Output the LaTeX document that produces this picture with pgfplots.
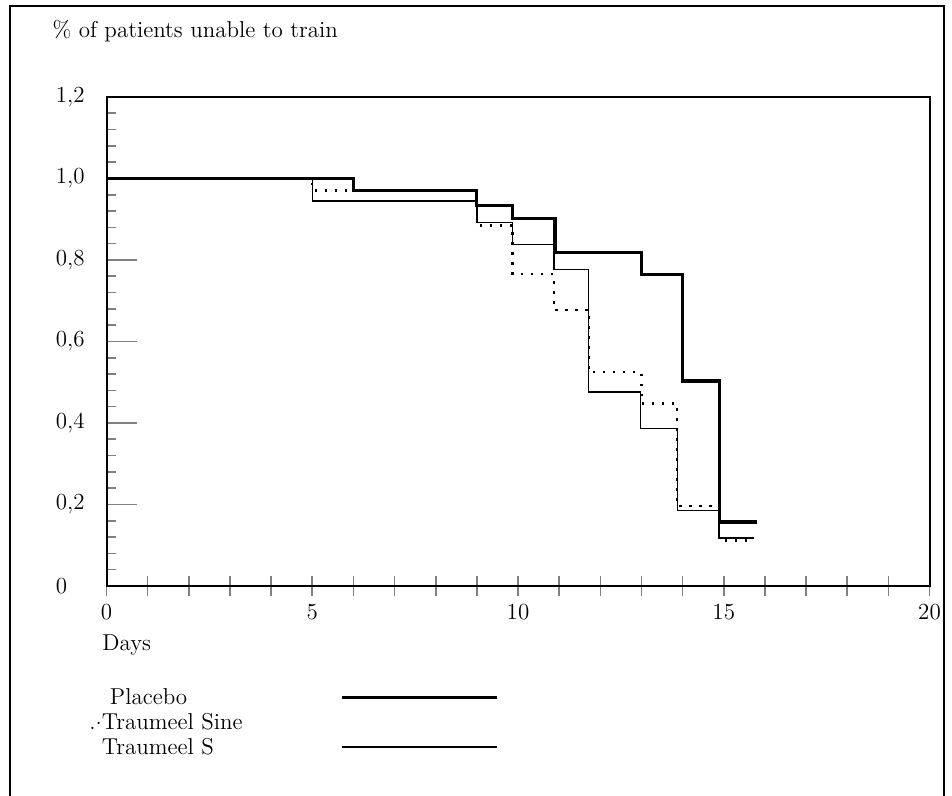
\documentclass[border=0pt]{standalone}
\usepackage{pgfplots}
\pgfplotsset{compat=1.18}
\newcommand\ff{\fontsize{11.5bp}{13.8bp}\selectfont}
\newcommand\lt[1]{\makebox[119bp][l]{\rule[-3.6bp]{0pt}{12bp}#1}}
\begin{document}
\begin{tikzpicture}
\useasboundingbox (0bp,0bp) rectangle (476bp,398bp);
\draw[line width=1bp] (5bp,0bp) -- (5bp,395bp) -- (472bp,395bp) -- (472bp,0bp);
\begin{axis}[
  at={(53.25bp,105bp)}, anchor=south west,
  scale only axis, width=411.5bp, height=244.5bp,
  xmin=0, xmax=20, ymin=0, ymax=1.2,
  axis line style={line width=1bp},
  tick align=inside,
  xtick pos=bottom, ytick pos=left,
  xtick={0,1,...,20},
  xticklabels={0,,,,,5,,,,,10,,,,,15,,,,,20},
  ytick={0,0.2,0.4,0.6,0.8,1.0,1.2},
  yticklabels={0,{0,2},{0,4},{0,6},{0,8},{1,0},{1,2}},
  minor y tick num=4,
  major tick length=15bp, minor tick length=4.5bp,
  xtick style={/pgfplots/major tick length=10bp, yshift=-5bp, line width=0.8bp},
  ytick style={line width=0.8bp},
  tick label style={font=\ff},
  xticklabel style={inner sep=0pt, yshift=-9bp},
  yticklabel style={anchor=west, inner sep=0pt, xshift=-25.5bp},
  title={\% of patients unable to train},
  title style={font=\ff, at={(axis description cs:-0.066,1.098)}, anchor=base west, inner sep=0pt},
  xlabel={Days},
  xlabel style={font=\ff, at={(axis description cs:-0.0055,-0.131)}, anchor=base west, inner sep=0pt},
  legend plot pos=right,
  legend cell align=left,
  legend image code/.code={\draw[#1] (0bp,0bp) -- (77.5bp,0bp);},
  legend style={at={(axis description cs:-0.0055,-0.208)}, anchor=north west, draw=none, fill=none,
    inner sep=0pt, outer sep=0pt, row sep=2.5bp, column sep=0pt, nodes={inner sep=0pt, font=\ff}},
]
% Placebo
\addplot[const plot, line width=1.6bp] coordinates {
 (0,1.0) (6,0.971) (9,0.933) (9.87,0.902) (10.9,0.819) (13,0.764) (14,0.503) (14.9,0.157) (15.8,0.157)};
\addlegendentry{\lt{\hspace{4bp}Placebo}}
% Traumeel Sine
\addplot[const plot, line width=1.2bp, dash pattern=on 1.2bp off 3.8bp, legend image code/.code={}] coordinates {
 (0,1.0) (5,0.971) (9,0.885) (9.87,0.765) (10.87,0.678) (11.72,0.525) (13.0,0.448) (13.86,0.197) (14.88,0.112) (15.73,0.112)};
\addlegendentry{\lt{\llap{.\raisebox{0.5ex}{.}}Traumeel Sine}}
% Traumeel S
\addplot[const plot, line width=0.7bp] coordinates {
 (0,1.0) (5,0.945) (9,0.892) (9.87,0.838) (10.87,0.776) (11.72,0.476) (12.97,0.387) (13.87,0.185) (14.88,0.118) (15.73,0.118)};
\addlegendentry{\lt{Traumeel S}}
\end{axis}
\end{tikzpicture}
\end{document}
